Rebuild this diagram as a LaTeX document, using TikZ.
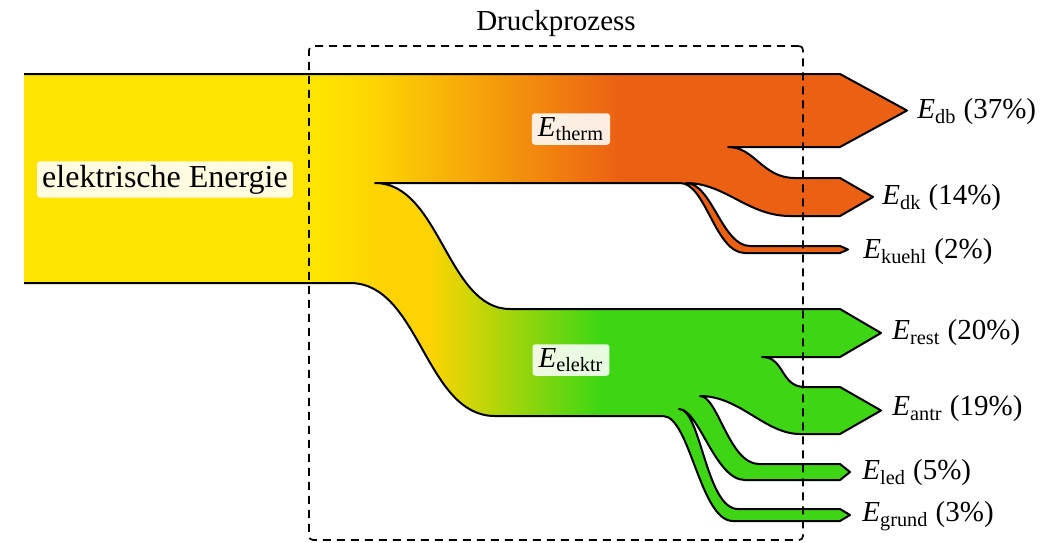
\documentclass[tikz,border=0pt]{standalone}
\usepackage{fontspec}
\setmainfont{Liberation Serif}
\usetikzlibrary{positioning}
\definecolor{flowyellow}{RGB}{255,228,0}
\definecolor{flowred}{RGB}{236,96,20}
\definecolor{flowgreen}{RGB}{62,214,20}
\colorlet{flowmix}{flowyellow!88!flowred}
\newcommand{\Eflow}[2]{\textit{E}\textsubscript{#1} (#2\%)}

% outer edge of all energy flows (left end stays open)
\def\flowoutline{(24,74) -- (840,74) -- (907,110.5) -- (840,147) -- (728,147)
  .. controls (755,147) and (762,178) .. (795,178)
  -- (840,178) -- (873,197) -- (840,216) -- (790,216)
  .. controls (748,216) and (725,183) .. (686,183)
  .. controls (712,183) and (722,246) .. (750,246)
  -- (840,246) -- (848,249.5) -- (840,253) -- (745,253)
  .. controls (715,253) and (706,183) .. (680,183)
  -- (375,183)
  .. controls (440,183) and (447,309) .. (510,309)
  -- (840,309) -- (881,333) -- (840,357) -- (762,357)
  .. controls (785,357) and (780,387) .. (805,387)
  -- (840,387) -- (881,410.5) -- (840,434) -- (800,434)
  .. controls (765,434) and (740,396) .. (700,396)
  .. controls (718,396) and (729,464) .. (759,464)
  -- (840,464) -- (850,472) -- (840,480) -- (745,480)
  .. controls (715,480) and (699,409) .. (679,409)
  .. controls (701,409) and (706,509) .. (738,509)
  -- (840,509) -- (850,515) -- (840,521) -- (733,521)
  .. controls (700,521) and (690,416) .. (663,416)
  -- (495,416)
  .. controls (425,416) and (420,283) .. (350,283)
  -- (24,283)}

\begin{document}
\begin{tikzpicture}[x=0.5pt, y=-0.5pt,
    font=\fontsize{14.5}{17}\selectfont,
    flowline/.style={draw=black, line width=1pt, line join=round},
    procbox/.style={draw=black, line width=0.85pt, dash pattern=on 4pt off 3pt, rounded corners=2pt, minimum width=247pt, minimum height=247pt, inner sep=0pt},
    lblbox/.style={fill=white, fill opacity=0.88, text opacity=1, rounded corners=1.5pt, inner xsep=3pt, inner ysep=2pt},
    outlbl/.style={anchor=west, inner sep=0pt}
  ]
  \useasboundingbox (0,0) rectangle (1064,542);

  % Colour of the flows
  \begin{scope}
    \clip \flowoutline -- cycle;
    \fill[flowyellow] (0,0) rectangle (320,542);
    \shade[left color=flowyellow, right color=flowmix] (320,0) rectangle (376,542);
    \shade[left color=flowmix, right color=flowred] (375,0) rectangle (620,183);
    \fill[flowred] (619,0) rectangle (1064,290);
    \fill[flowmix] (375,183) rectangle (431,542);
    \shade[left color=flowmix, right color=flowgreen] (430,183) rectangle (600,542);
    \fill[flowgreen] (599,290) rectangle (1064,542);
  \end{scope}
  \draw[flowline] \flowoutline;

  % Labels on the flows
  \node[lblbox, font=\fontsize{16}{19}\selectfont, inner xsep=2.5pt, inner ysep=1.8pt] (eel) at (165,179.5) {elektrische Energie};
  \node[lblbox] (etherm) at (571,129) {\textit{E}\textsubscript{therm}};
  \node[lblbox] (eelektr) at (571,360) {\textit{E}\textsubscript{elektr}};

  % Outputs
  \node[outlbl] (edb) at (917,112) {\Eflow{db}{37}};
  \node[outlbl] (edk) at (882,198) {\Eflow{dk}{14}};
  \node[outlbl] (ekuehl) at (863,252) {\Eflow{kuehl}{2}};
  \node[outlbl] (erest) at (892,333) {\Eflow{rest}{20}};
  \node[outlbl] (eantr) at (892,409) {\Eflow{antr}{19}};
  \node[outlbl] (eled) at (862,473) {\Eflow{led}{5}};
  \node[outlbl] (egrund) at (862,516) {\Eflow{grund}{3}};

  % Process boundary
  \node[procbox] (druck) at (556,293) {};
  \node[above=0.5pt of druck] (druckname) {Druckprozess};

\end{tikzpicture}
\end{document}
